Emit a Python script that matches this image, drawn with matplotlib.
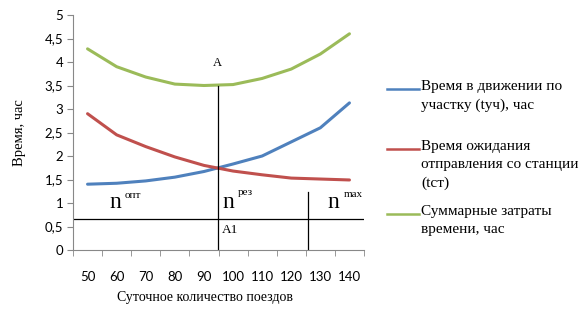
import matplotlib
matplotlib.use("Agg")
import matplotlib.pyplot as plt
from matplotlib.lines import Line2D

categories = [50, 60, 70, 80, 90, 100, 110, 120, 130, 140]
t_move = [1.40, 1.42, 1.47, 1.55, 1.67, 1.83, 2.00, 2.30, 2.60, 3.13]
t_wait = [2.90, 2.45, 2.20, 1.98, 1.80, 1.68, 1.60, 1.53, 1.51, 1.49]
t_total = [4.28, 3.90, 3.68, 3.53, 3.50, 3.52, 3.65, 3.85, 4.17, 4.60]
yticks = [0, 0.5, 1, 1.5, 2, 2.5, 3, 3.5, 4, 4.5, 5]
ytick_labels = ["0", "0,5", "1", "1,5", "2", "2,5", "3", "3,5", "4", "4,5", "5"]
legend_labels = ["Время в движении по\nучастку (tуч), час",
                 "Время ожидания\nотправления со станции\n(tст)",
                 "Суммарные затраты\nвремени, час"]
colors = ["#4F81BD", "#C0504D", "#9BBB59"]

# annotation positions (category index units / hours)
a_x = 4.47
a1_level = 0.66
nmax_x = 7.58
nmax_top = 1.23

serif = "Liberation Serif"
sans = "Lato"

fig = plt.figure(figsize=(5.87, 3.10), dpi=100)
ax = fig.add_axes([73/587, 60/310, (364-73)/587, (250-15)/310])

xs = list(range(len(categories)))
for vals, c in zip([t_move, t_wait, t_total], colors):
    ax.plot(xs, vals, color=c, lw=2.2, solid_capstyle="round")

ax.set_xlim(-0.5, len(categories) - 0.5)
ax.set_ylim(0, 5)
ax.set_yticks(yticks)
ax.set_yticklabels(ytick_labels, fontfamily=sans, fontsize=9.5)
ax.set_xticks(xs)
ax.set_xticklabels([str(c) for c in categories], fontfamily=sans, fontsize=9.5)
ax.set_xticks([i - 0.5 for i in range(len(categories) + 1)], minor=True)
ax.tick_params(axis="x", which="major", length=0, pad=15)
ax.tick_params(axis="x", which="minor", length=4, color="#888888")
ax.tick_params(axis="y", length=4, color="#888888", pad=3)
for s in ["top", "right"]:
    ax.spines[s].set_visible(False)
for s in ["left", "bottom"]:
    ax.spines[s].set_color("#888888")

# annotation lines
ax.plot([a_x, a_x], [0, t_total[4]], color="black", lw=0.9)
ax.plot([-0.5, len(categories) - 0.5], [a1_level, a1_level], color="black", lw=0.9)
ax.plot([nmax_x, nmax_x], [0, nmax_top], color="black", lw=0.9)

ax.text(a_x, 3.97, "A", fontfamily=serif, fontsize=9, ha="center", va="center")
ax.text(a_x + 0.15, 0.42, "A1", fontfamily=serif, fontsize=9.5, ha="left", va="center")
ax.text(0.95, 1.0, "n", fontfamily=serif, fontsize=17, ha="center", va="center")
ax.text(1.27, 1.15, "опт", fontfamily=serif, fontsize=8, ha="left", va="center")
ax.text(4.85, 1.0, "n", fontfamily=serif, fontsize=17, ha="center", va="center")
ax.text(5.17, 1.22, "рез", fontfamily=serif, fontsize=8, ha="left", va="center")
ax.text(8.45, 1.0, "n", fontfamily=serif, fontsize=17, ha="center", va="center")
ax.text(8.8, 1.18, "max", fontfamily=serif, fontsize=8, ha="left", va="center")

ax.set_ylabel("Время, час", fontfamily=serif, fontsize=10.5)
ax.yaxis.set_label_coords(-0.16, 0.5)
fig.text(205/587, 1 - 297/310, "Суточное количество поездов", fontfamily=serif,
         fontsize=10, ha="center", va="center")

# legend
leg_y = [89, 149, 214]
for y, lab, c in zip(leg_y, legend_labels, colors):
    yf = 1 - y / 310
    fig.add_artist(Line2D([387/587, 419/587], [yf, yf], color=c, lw=1.8,
                          transform=fig.transFigure))
    fig.text(421/587, yf + 9/310, lab, fontfamily=serif, fontsize=11, ha="left",
             va="top", linespacing=1.5, transform=fig.transFigure)

fig.savefig("out.png", dpi=100)
